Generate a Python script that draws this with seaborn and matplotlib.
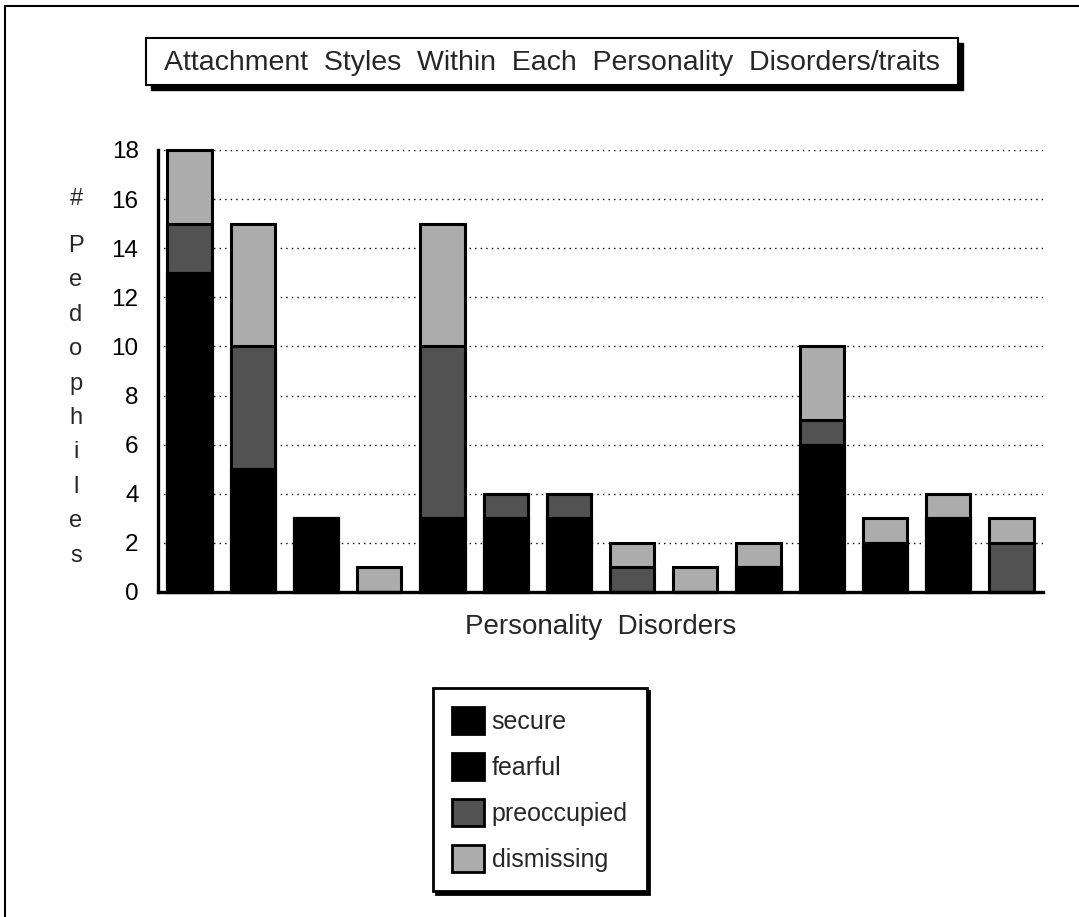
import numpy as np
import pandas as pd
import matplotlib
matplotlib.use("Agg")
import matplotlib.pyplot as plt
from matplotlib.patches import Rectangle, Patch
from matplotlib.lines import Line2D
import seaborn as sns

# ---------------- data ----------------
categories = ["PD1", "PD2", "PD3", "PD4", "PD5", "PD6", "PD7",
              "PD8", "PD9", "PD10", "PD11", "PD12", "PD13", "PD14"]
secure      = [13, 5, 3, 0, 3, 3, 3, 0, 0, 1, 6, 2, 3, 0]
fearful     = [0, 0, 0, 0, 0, 0, 0, 0, 0, 0, 0, 0, 0, 0]
preoccupied = [2, 5, 0, 0, 7, 1, 1, 1, 0, 0, 1, 0, 0, 2]
dismissing  = [3, 5, 0, 1, 5, 0, 0, 1, 1, 1, 3, 1, 1, 1]
series_names = ["secure", "fearful", "preoccupied", "dismissing"]
y_ticks = [0, 2, 4, 6, 8, 10, 12, 14, 16, 18]

title_text = "Attachment  Styles  Within  Each  Personality  Disorders/traits"
x_label = "Personality  Disorders"
y_label_hash = "#"
y_label_word = "Pedophiles"

colors = {"secure": "#000000", "fearful": "#000000",
          "preoccupied": "#525252", "dismissing": "#acacac"}

df = pd.DataFrame({"category": categories, "secure": secure, "fearful": fearful,
                   "preoccupied": preoccupied, "dismissing": dismissing})
cum = df[series_names].cumsum(axis=1)
cum["category"] = df["category"]

# ---------------- style ----------------
sns.set_style("white")
plt.rcParams["font.family"] = ["Liberation Sans", "DejaVu Sans"]

W, H = 1079, 917
fig = plt.figure(figsize=(W / 100, H / 100), dpi=100)
fig.patch.set_facecolor("white")
ax = fig.add_axes([158 / W, 1 - 592 / H, (1043 - 158) / W, (592 - 150) / H])

# stacked bars drawn as overlaid cumulative totals (top layer first)
for name in reversed(series_names):
    sns.barplot(data=cum, x="category", y=name, order=categories,
                color=colors[name], saturation=1, width=0.7,
                edgecolor="black", linewidth=2.2, errorbar=None, ax=ax)
for p in ax.patches:
    p.set_clip_on(False)

ax.set_xlim(-0.5, len(categories) - 0.5)
ax.set_ylim(0, 18)
ax.set_yticks(y_ticks)
ax.set_yticklabels([str(v) for v in y_ticks])
ax.set_xticks(np.arange(len(categories) + 1) - 0.5)
ax.set_xticklabels([])
ax.set_xlabel(x_label, fontsize=20, labelpad=1)
ax.set_ylabel("")

ax.tick_params(axis="x", length=11, width=2.2, direction="out", color="black")
ax.tick_params(axis="y", length=9, width=1.2, direction="out", color="black",
               labelsize=17.5, pad=5, labelcolor="black")
for s in ["top", "right"]:
    ax.spines[s].set_visible(False)
for s in ["left", "bottom"]:
    ax.spines[s].set_linewidth(2.4)
    ax.spines[s].set_color("black")

ax.yaxis.grid(True, linestyle=(0, (1, 3)), color="black", linewidth=1.0)
ax.xaxis.grid(False)
ax.set_axisbelow(True)

# vertical y-axis label
fig.text(76 / W, 1 - 199 / H, y_label_hash, ha="center", va="center", fontsize=17)
fig.text(76 / W, 1 - 235 / H, "\n".join(y_label_word), ha="center", va="top",
         fontsize=17, linespacing=1.73)

# title box with drop shadow
tx0, ty0, tx1, ty1 = 146, 38, 958, 85
fig.add_artist(Rectangle(((tx0 + 5) / W, 1 - (ty1 + 5) / H), (tx1 - tx0) / W,
                         (ty1 - ty0) / H, transform=fig.transFigure,
                         facecolor="black", edgecolor="black"))
fig.add_artist(Rectangle((tx0 / W, 1 - ty1 / H), (tx1 - tx0) / W,
                         (ty1 - ty0) / H, transform=fig.transFigure,
                         facecolor="white", edgecolor="black", linewidth=1.5))
fig.text((tx0 + tx1) / 2 / W, 1 - (ty0 + ty1 + 2) / 2 / H, title_text,
         ha="center", va="center", fontsize=20.5)

# outer frame (top and left)
fig.add_artist(Line2D([5 / W, 1], [1 - 6 / H, 1 - 6 / H], transform=fig.transFigure,
                      color="black", linewidth=1.5))
fig.add_artist(Line2D([5 / W, 5 / W], [0, 1 - 6 / H], transform=fig.transFigure,
                      color="black", linewidth=1.5))

# legend
handles = [Patch(facecolor=colors[n], edgecolor="black", linewidth=2) for n in series_names]
leg = fig.legend(handles, series_names, loc="upper left",
                 bbox_to_anchor=(433 / W, 1 - 688 / H), borderaxespad=0,
                 fontsize=18, frameon=True, fancybox=False, framealpha=1,
                 edgecolor="black", handlelength=1.3, handleheight=1.3,
                 handletextpad=0.3, labelspacing=0.75, borderpad=0.75,
                 shadow={"color": "black", "alpha": 1})
leg.get_frame().set_linewidth(2)

fig.savefig("out.png", dpi=100)
